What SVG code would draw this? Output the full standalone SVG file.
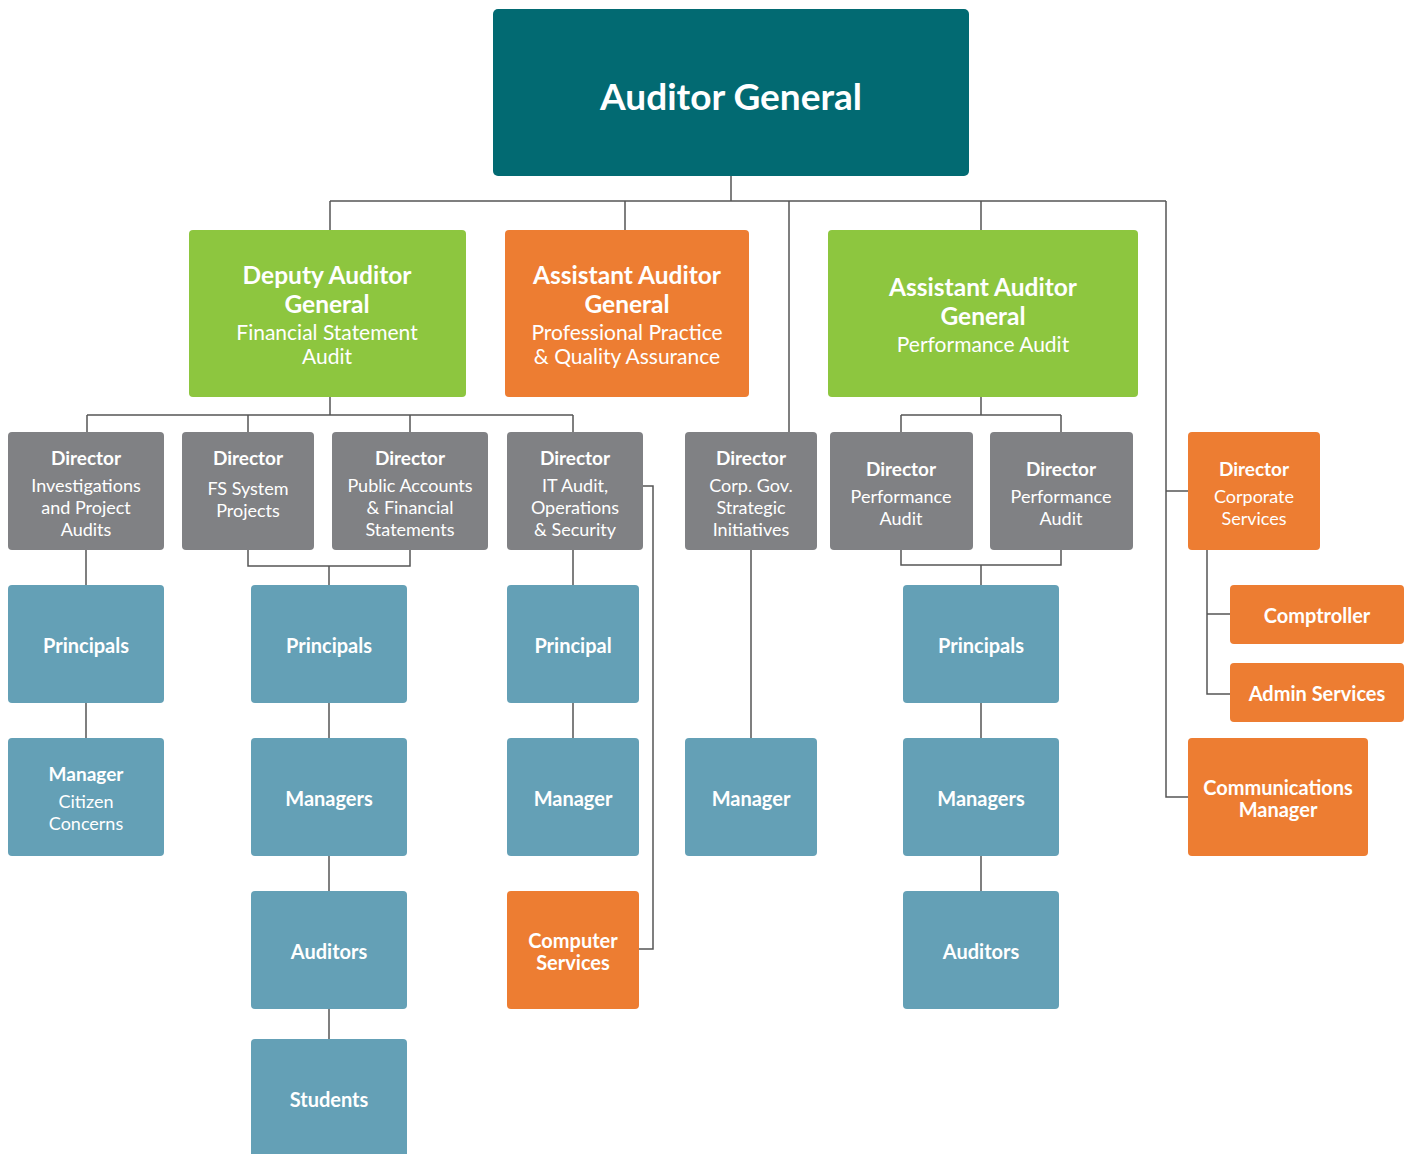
<svg xmlns="http://www.w3.org/2000/svg" width="1413" height="1154" viewBox="0 0 1413 1154">
<style>
text{font-family:Lato,"Liberation Sans",sans-serif;fill:#fff;text-anchor:middle}
.top{fill:#026A72}
.grn{fill:#8DC63F}
.org{fill:#ED7D32}
.gry{fill:#808184}
.blu{fill:#64A0B6}
.t1{font-size:37px;font-weight:700}
.t2{font-size:24.5px;font-weight:700}
.s2{font-size:21px}
.h{font-size:19px;font-weight:700}
.s{font-size:18px}
.l{font-size:20px;font-weight:700}
#connectors path{fill:none;stroke:#555;stroke-width:1.5}
</style>
<rect width="1413" height="1154" fill="#fff"/>
<g id="connectors">
<path d="M731 176V201M330 201H1166M330 201V230M625 201V230M789 201V432M981 201V230M1166 201V797H1188M1166 491H1188"/>
<path d="M330 397V415M87 415H573M87 415V432M248 415V432M410 415V432M573 415V432"/>
<path d="M981 397V415M901 415H1061M901 415V432M1061 415V432"/>
<path d="M86 550V738"/>
<path d="M248 550V566H410V550M329 566V1039"/>
<path d="M573 550V738M643 486H653V949H639"/>
<path d="M751 550V738"/>
<path d="M901 550V565H1061V550M981 565V891"/>
<path d="M1207 550V694H1230M1207 614H1230"/>
</g>
<g id="auditor-general"><rect class="top" x="493" y="9" width="476" height="167" rx="5"/><text class="t1" x="731" y="110">Auditor General</text></g>
<g id="deputy-ag"><rect class="grn" x="189" y="230" width="277" height="167" rx="4"/><text class="t2" x="327" y="284">Deputy Auditor</text><text class="t2" x="327" y="313">General</text><text class="s2" x="327" y="340">Financial Statement</text><text class="s2" x="327" y="364">Audit</text></g>
<g id="aag-pp"><rect class="org" x="505" y="230" width="244" height="167" rx="4"/><text class="t2" x="627" y="284">Assistant Auditor</text><text class="t2" x="627" y="313">General</text><text class="s2" x="627" y="340">Professional Practice</text><text class="s2" x="627" y="364">&amp; Quality Assurance</text></g>
<g id="aag-perf"><rect class="grn" x="828" y="230" width="310" height="167" rx="4"/><text class="t2" x="983" y="296">Assistant Auditor</text><text class="t2" x="983" y="325">General</text><text class="s2" x="983" y="352">Performance Audit</text></g>
<g id="dir-investigations"><rect class="gry" x="8" y="432" width="156" height="118" rx="4"/><text class="h" x="86" y="465">Director</text><text class="s" x="86" y="492">Investigations</text><text class="s" x="86" y="514">and Project</text><text class="s" x="86" y="536">Audits</text></g>
<g id="dir-fs"><rect class="gry" x="182" y="432" width="132" height="118" rx="4"/><text class="h" x="248" y="465">Director</text><text class="s" x="248" y="495">FS System</text><text class="s" x="248" y="517">Projects</text></g>
<g id="dir-public"><rect class="gry" x="332" y="432" width="156" height="118" rx="4"/><text class="h" x="410" y="465">Director</text><text class="s" x="410" y="492">Public Accounts</text><text class="s" x="410" y="514">&amp; Financial</text><text class="s" x="410" y="536">Statements</text></g>
<g id="dir-it"><rect class="gry" x="507" y="432" width="136" height="118" rx="4"/><text class="h" x="575" y="465">Director</text><text class="s" x="575" y="492">IT Audit,</text><text class="s" x="575" y="514">Operations</text><text class="s" x="575" y="536">&amp; Security</text></g>
<g id="dir-corpgov"><rect class="gry" x="685" y="432" width="132" height="118" rx="4"/><text class="h" x="751" y="465">Director</text><text class="s" x="751" y="492">Corp. Gov.</text><text class="s" x="751" y="514">Strategic</text><text class="s" x="751" y="536">Initiatives</text></g>
<g id="dir-perf1"><rect class="gry" x="830" y="432" width="143" height="118" rx="4"/><text class="h" x="901" y="476">Director</text><text class="s" x="901" y="503">Performance</text><text class="s" x="901" y="525">Audit</text></g>
<g id="dir-perf2"><rect class="gry" x="990" y="432" width="143" height="118" rx="4"/><text class="h" x="1061" y="476">Director</text><text class="s" x="1061" y="503">Performance</text><text class="s" x="1061" y="525">Audit</text></g>
<g id="dir-corporate"><rect class="org" x="1188" y="432" width="132" height="118" rx="4"/><text class="h" x="1254" y="476">Director</text><text class="s" x="1254" y="503">Corporate</text><text class="s" x="1254" y="525">Services</text></g>
<g id="principals-1"><rect class="blu" x="8" y="585" width="156" height="118" rx="4"/><text class="l" x="86" y="653">Principals</text></g>
<g id="principals-2"><rect class="blu" x="251" y="585" width="156" height="118" rx="4"/><text class="l" x="329" y="653">Principals</text></g>
<g id="principal-3"><rect class="blu" x="507" y="585" width="132" height="118" rx="4"/><text class="l" x="573" y="653">Principal</text></g>
<g id="principals-4"><rect class="blu" x="903" y="585" width="156" height="118" rx="4"/><text class="l" x="981" y="653">Principals</text></g>
<g id="comptroller"><rect class="org" x="1230" y="585" width="174" height="59" rx="4"/><text class="l" x="1317" y="623">Comptroller</text></g>
<g id="admin-services"><rect class="org" x="1230" y="663" width="174" height="59" rx="4"/><text class="l" x="1317" y="701">Admin Services</text></g>
<g id="manager-citizen"><rect class="blu" x="8" y="738" width="156" height="118" rx="4"/><text class="h" x="86" y="781">Manager</text><text class="s" x="86" y="808">Citizen</text><text class="s" x="86" y="830">Concerns</text></g>
<g id="managers-2"><rect class="blu" x="251" y="738" width="156" height="118" rx="4"/><text class="l" x="329" y="806">Managers</text></g>
<g id="manager-3"><rect class="blu" x="507" y="738" width="132" height="118" rx="4"/><text class="l" x="573" y="806">Manager</text></g>
<g id="manager-corpgov"><rect class="blu" x="685" y="738" width="132" height="118" rx="4"/><text class="l" x="751" y="806">Manager</text></g>
<g id="managers-4"><rect class="blu" x="903" y="738" width="156" height="118" rx="4"/><text class="l" x="981" y="806">Managers</text></g>
<g id="comms-manager"><rect class="org" x="1188" y="738" width="180" height="118" rx="4"/><text class="l" x="1278" y="795">Communications</text><text class="l" x="1278" y="817">Manager</text></g>
<g id="auditors-2"><rect class="blu" x="251" y="891" width="156" height="118" rx="4"/><text class="l" x="329" y="959">Auditors</text></g>
<g id="computer-services"><rect class="org" x="507" y="891" width="132" height="118" rx="4"/><text class="l" x="573" y="948">Computer</text><text class="l" x="573" y="970">Services</text></g>
<g id="auditors-4"><rect class="blu" x="903" y="891" width="156" height="118" rx="4"/><text class="l" x="981" y="959">Auditors</text></g>
<g id="students"><rect class="blu" x="251" y="1039" width="156" height="122" rx="4"/><text class="l" x="329" y="1107">Students</text></g>
</svg>
